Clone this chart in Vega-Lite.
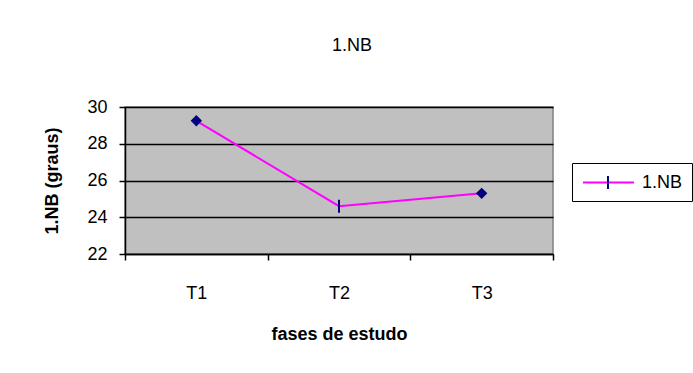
{
  "$schema": "https://vega.github.io/schema/vega-lite/v6.json",
  "autosize": "none",
  "width": 428,
  "height": 147,
  "padding": {"left": 125, "top": 107, "right": 140, "bottom": 119},
  "background": "white",
  "title": {"text": "1.NB", "anchor": "middle", "dx": 13, "offset": 43, "font": "Liberation Sans", "fontSize": 18, "fontWeight": "normal", "color": "black"},
  "config": {
    "view": {"fill": "#C0C0C0", "stroke": "#808080", "strokeWidth": 1.5},
    "font": "Liberation Sans"
  },
  "data": {"values": [
    {"fase": "T1", "valor": 29.25},
    {"fase": "T2", "valor": 24.6},
    {"fase": "T3", "valor": 25.3}
  ]},
  "encoding": {
    "x": {"field": "fase", "type": "nominal",
      "scale": {"type": "band", "paddingInner": 0, "paddingOuter": 0},
      "axis": {"title": "fases de estudo", "labelAngle": 0, "tickBand": "extent", "grid": false,
        "domainColor": "black", "domainWidth": 1.5, "tickColor": "black", "tickWidth": 1.5, "tickSize": 6,
        "labelPadding": 24, "labelFontSize": 18, "labelColor": "black", "labelFont": "Liberation Sans",
        "titleFontSize": 18, "titleFont": "Liberation Sans", "titleFontWeight": "bold", "titleColor": "black", "titlePadding": 23}},
    "y": {"field": "valor", "type": "quantitative",
      "scale": {"domain": [22, 30], "nice": false, "zero": false},
      "axis": {"title": "1.NB (graus)", "values": [22, 24, 26, 28, 30], "grid": true, "gridColor": "black", "gridWidth": 1.5, "gridOpacity": 1,
        "domainColor": "black", "domainWidth": 1.5, "tickColor": "black", "tickWidth": 1.5, "tickSize": 6,
        "labelPadding": 12, "labelFontSize": 18, "labelColor": "black", "labelFont": "Liberation Sans",
        "titleFontSize": 18, "titleFont": "Liberation Sans", "titleFontWeight": "bold", "titleColor": "black", "titlePadding": 25}}
  },
  "layer": [
    {
      "mark": {"type": "line", "strokeWidth": 2},
      "encoding": {
        "stroke": {"datum": "1.NB", "scale": {"range": ["#FF00FF"]},
          "legend": {"title": null, "orient": "none", "legendX": 447, "legendY": 56,
            "strokeColor": "black", "padding": 9.5,
            "symbolType": "M-0.944,0H4.72", "symbolSize": 324, "symbolStrokeWidth": 2, "symbolStrokeColor": "#FF00FF",
            "labelFontSize": 18, "labelFont": "Liberation Sans", "labelColor": "black", "labelOffset": 40.5}}
      }
    },
    {
      "transform": [{"filter": "datum.fase !== 'T2'"}],
      "mark": {"type": "point", "shape": "diamond", "filled": true, "size": 130, "color": "#000080", "opacity": 1}
    },
    {
      "transform": [{"filter": "datum.fase === 'T2'"}],
      "mark": {"type": "point", "filled": false, "size": 324, "stroke": "#000080", "strokeWidth": 2, "opacity": 1, "shape": "M0,-0.72V0.72"}
    },
    {
      "transform": [{"filter": "datum.fase === 'T2'"}],
      "mark": {"type": "point", "filled": false, "size": 324, "opacity": 0},
      "encoding": {
        "shape": {"datum": "1.NB ", "scale": {"range": ["M1.83,-0.72V0.72"]},
          "legend": {"title": null, "orient": "none", "legendX": 447, "legendY": 56,
            "padding": 9.5,
            "symbolSize": 324, "symbolStrokeWidth": 2, "symbolStrokeColor": "#000080", "symbolFillColor": "transparent", "symbolOpacity": 1,
            "labelFontSize": 18, "labelFont": "Liberation Sans", "labelColor": "black", "labelOffset": 40.5, "labelOpacity": 0}}
      }
    }
  ]
}
